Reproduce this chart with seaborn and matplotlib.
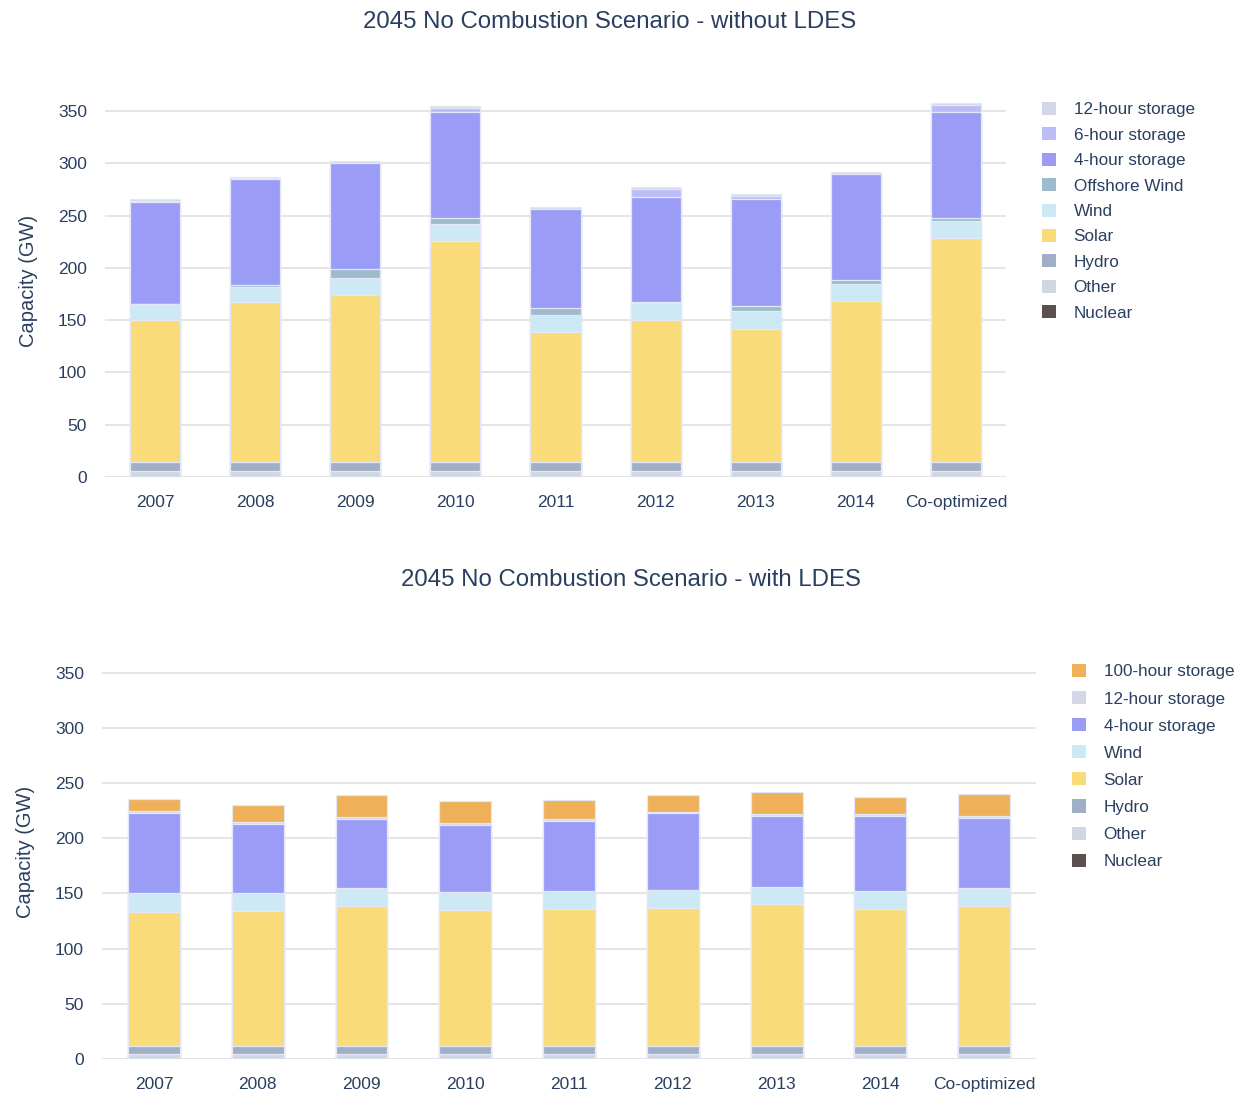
import matplotlib
matplotlib.use("Agg")
import matplotlib.pyplot as plt
from matplotlib.patches import Patch
import seaborn as sns

# --- Data (GW) ---
years = ["2007", "2008", "2009", "2010", "2011", "2012", "2013", "2014", "Co-optimized"]

# without LDES
noldes_nuclear = [0, 0, 0, 0, 0, 0, 0, 0, 0]
noldes_other = [6, 6, 6, 6, 6, 6, 6, 6, 6]
noldes_hydro = [8, 8, 8, 8, 8, 8, 8, 8, 8]
noldes_solar = [136, 153.3, 160, 211.6, 125, 136.4, 127.8, 154.3, 214.8]
noldes_wind = [15.4, 14.7, 16, 15.9, 16, 15.6, 16.9, 16.2, 16.2]
noldes_offshore = [0.5, 1.5, 8.5, 6.5, 6.2, 1.3, 5.3, 3.5, 2.6]
noldes_4h = [97.1, 101.5, 101.5, 101.3, 94.8, 100.7, 101.5, 101.4, 101.7]
noldes_6h = [0.5, 0.5, 0.5, 3.2, 0.5, 7, 3.1, 0.5, 6.7]
noldes_12h = [2, 1.5, 1.5, 1.9, 1.5, 2, 2.4, 1.7, 1.3]

# with LDES
ldes_nuclear = [0, 0, 0, 0, 0, 0, 0, 0, 0]
ldes_other = [4.5, 4.5, 4.5, 4.5, 4.5, 4.5, 4.5, 4.5, 4.5]
ldes_hydro = [7.5, 7.5, 7.5, 7.5, 7.5, 7.5, 7.5, 7.5, 7.5]
ldes_solar = [121.5, 122, 127, 123.4, 124.3, 125.2, 128.2, 124.3, 127]
ldes_wind = [16.5, 16, 16.3, 16, 16, 15.8, 16, 16, 16]
ldes_4h = [72.4, 63.3, 61.7, 60.5, 62.9, 69.4, 63.8, 67.7, 62.9]
ldes_12h = [2.1, 1.6, 2, 2.1, 2.1, 1.6, 2, 1.5, 2.1]
ldes_100h = [11.2, 15.4, 19.7, 20, 17.7, 15.4, 19.4, 15.5, 20.3]

COLORS = {
    "Nuclear": "#5b4f4f",
    "Other": "#d0d7e3",
    "Hydro": "#a0aec6",
    "Solar": "#f9dc79",
    "Wind": "#cde9f6",
    "Offshore Wind": "#9dbbcc",
    "4-hour storage": "#9a9cf5",
    "6-hour storage": "#bcbdf6",
    "12-hour storage": "#d3d7e8",
    "100-hour storage": "#eeb15a",
}
TEXT = "#2a3f5f"

plt.rcParams["font.family"] = ["Liberation Sans", "DejaVu Sans"]


def stacked(ax, layers, ymax):
    """Draw stacked bars bottom-up; tallest cumulative drawn first so lower layers sit on top."""
    cums = []
    running = [0.0] * len(years)
    for name, vals in layers:
        running = [r + v for r, v in zip(running, vals)]
        cums.append((name, list(running)))
    for name, cum in reversed(cums):
        sns.barplot(x=years, y=cum, color=COLORS[name], saturation=1, width=0.5,
                    edgecolor="#e4e8f6", linewidth=0.9, ax=ax)
    ax.set_ylim(0, ymax)
    ax.set_xlim(-0.5, len(years) - 0.5)
    ax.set_yticks(range(0, 351, 50))
    ax.yaxis.grid(True, color="#e3e3e3", linewidth=1.3)
    ax.set_axisbelow(True)
    for s in ax.spines.values():
        s.set_visible(False)
    ax.axhline(0, color="#dadada", linewidth=1.8, zorder=0.5)
    ax.tick_params(length=0, labelsize=12.5, labelcolor=TEXT)
    ax.tick_params(axis="y", pad=13)
    ax.tick_params(axis="x", pad=13)
    ax.set_xlabel("")
    ax.set_ylabel("Capacity (GW)", fontsize=14.5, color=TEXT, labelpad=14)


fig = plt.figure(figsize=(12.5, 10.93), dpi=100)

# --- Top: without LDES ---
ax1 = fig.add_axes([0.084, 0.5636, 0.7208, 0.3587])
top_layers = [
    ("Nuclear", noldes_nuclear), ("Other", noldes_other), ("Hydro", noldes_hydro),
    ("Solar", noldes_solar), ("Wind", noldes_wind), ("Offshore Wind", noldes_offshore),
    ("4-hour storage", noldes_4h), ("6-hour storage", noldes_6h), ("12-hour storage", noldes_12h),
]
stacked(ax1, top_layers, 375)
fig.text(0.488, 1 - 22 / 1093, "2045 No Combustion Scenario - without LDES",
         ha="center", va="center", fontsize=17.3, color=TEXT)
h1 = [Patch(facecolor=COLORS[n], edgecolor="none") for n, _ in reversed(top_layers)]
fig.legend(h1, [n for n, _ in reversed(top_layers)], loc="upper left",
           bbox_to_anchor=(1042 / 1250, 1 - 102 / 1093), frameon=False, fontsize=12.3,
           handlelength=0.8, handleheight=0.8, handletextpad=1.05, labelspacing=0.58,
           borderpad=0, borderaxespad=0, labelcolor=TEXT)

# --- Bottom: with LDES ---
ax2 = fig.add_axes([0.0816, 0.0311, 0.7472, 0.3788])
bot_layers = [
    ("Nuclear", ldes_nuclear), ("Other", ldes_other), ("Hydro", ldes_hydro),
    ("Solar", ldes_solar), ("Wind", ldes_wind), ("4-hour storage", ldes_4h),
    ("12-hour storage", ldes_12h), ("100-hour storage", ldes_100h),
]
stacked(ax2, bot_layers, 375)
fig.text(0.505, 1 - 580 / 1093, "2045 No Combustion Scenario - with LDES",
         ha="center", va="center", fontsize=17.3, color=TEXT)
h2 = [Patch(facecolor=COLORS[n], edgecolor="none") for n, _ in reversed(bot_layers)]
fig.legend(h2, [n for n, _ in reversed(bot_layers)], loc="upper left",
           bbox_to_anchor=(1072 / 1250, 1 - 664 / 1093), frameon=False, fontsize=12.3,
           handlelength=0.8, handleheight=0.8, handletextpad=1.05, labelspacing=0.68,
           borderpad=0, borderaxespad=0, labelcolor=TEXT)

plt.savefig("out.png", dpi=100)
plt.close()
